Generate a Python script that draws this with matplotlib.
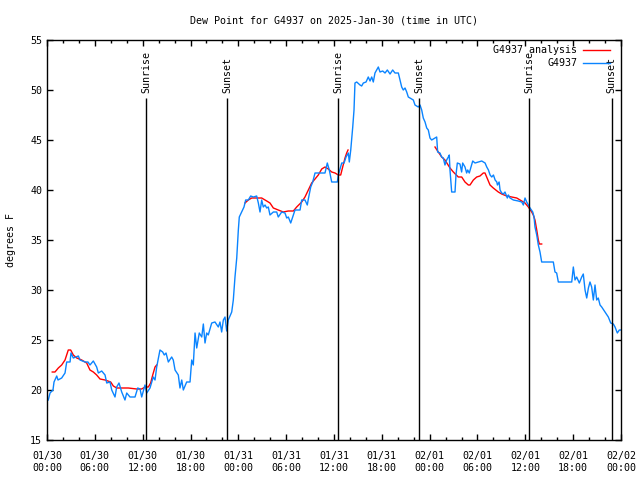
import matplotlib
matplotlib.use("Agg")
import matplotlib.pyplot as plt
from matplotlib.ticker import MultipleLocator

# ---- data (hours since 2025-01-30 00:00 UTC, dew point in F) ----
obs_hours = [0.16, 0.38, 0.75, 0.88, 1.22, 1.38, 1.84, 2.26, 2.47, 2.89, 3.01, 3.30, 3.93, 4.14,
             4.77, 5.14, 5.39, 5.81, 6.23, 6.44, 6.86, 7.28, 7.49, 7.90, 8.12, 8.53, 8.74, 9.03,
             9.37, 9.78, 10.0, 10.41, 11.04, 11.38, 11.67, 11.88, 12.29, 12.51, 12.92, 13.33,
             13.55, 13.76, 14.17, 14.51, 14.71, 14.93, 15.22, 15.64, 15.84, 16.06, 16.47, 16.68,
             16.90, 17.10, 17.52, 17.94, 18.15, 18.35, 18.57, 18.78, 19.10, 19.41, 19.61, 19.82,
             20.03, 20.23, 20.66, 21.07, 21.49, 21.70, 21.91, 22.12, 22.33, 22.54, 22.74, 23.17,
             23.37, 23.58, 23.80, 24.0, 24.12, 24.42, 24.71, 24.92, 25.25, 25.55, 25.89, 26.30,
             26.51, 26.72, 26.93, 27.13, 27.35, 27.56, 27.76, 27.97, 28.39, 28.81, 29.01, 29.44,
             29.85, 30.07, 30.27, 30.57, 30.82, 31.11, 31.74, 31.95, 32.36, 32.65, 32.78, 33.08,
             33.33, 33.62, 34.24, 34.87, 35.16, 35.41, 35.71, 36.42, 36.54, 36.97, 37.26, 37.51,
             37.80, 37.92, 38.10, 38.35, 38.51, 38.63, 38.85, 39.26, 39.47, 39.68, 40.02, 40.30,
             40.52, 40.73, 40.93, 41.14, 41.56, 41.77, 42.11, 42.40, 42.69, 43.03, 43.36, 43.65,
             44.07, 44.28, 44.49, 44.69, 44.91, 45.12, 45.32, 45.53, 45.95, 46.16, 46.57, 46.79,
             47.0, 47.20, 47.42, 47.63, 47.83, 48.04, 48.25, 48.67, 48.88, 49.0, 49.29, 49.50,
             49.71, 49.92, 50.13, 50.34, 50.46, 50.55, 50.68, 50.76, 51.18, 51.30, 51.47, 51.80,
             52.01, 52.14, 52.43, 52.64, 52.77, 52.97, 53.19, 53.40, 53.69, 54.11, 54.53, 54.95,
             55.16, 55.37, 55.58, 55.79, 56.0, 56.21, 56.42, 56.50, 56.71, 56.83, 57.04, 57.25,
             57.45, 57.74, 57.87, 58.08, 58.50, 59.12, 59.55, 59.75, 59.96, 60.17, 60.38, 60.59,
             60.93, 61.09, 61.21, 61.43, 61.63, 61.84, 62.05, 63.51, 63.72, 63.93, 64.14, 65.82,
             66.02, 66.23, 66.44, 66.77, 67.07, 67.27, 67.49, 67.70, 67.91, 68.11, 68.32, 68.53,
             68.74, 68.95, 69.15, 69.37, 69.58, 69.99, 70.41, 70.71, 71.04, 71.25, 71.54, 71.79,
             72.0]
obs_dewpt = [19.0, 19.7, 20.0, 20.8, 21.4, 21.0, 21.2, 21.7, 22.8, 22.8, 23.7, 23.2, 23.4, 23.0,
             22.8, 22.8, 22.5, 22.9, 22.3, 21.7, 21.9, 21.5, 20.7, 20.8, 20.0, 19.3, 20.3, 20.7,
             19.8, 19.0, 19.7, 19.3, 19.3, 20.2, 20.1, 19.3, 20.5, 19.7, 20.2, 21.3,
             21.0, 22.3, 24.0, 23.8, 23.5, 23.7, 22.8, 23.3, 23.0, 22.0, 21.5, 20.2,
             21.0, 20.0, 20.8, 20.8, 23.0, 22.5, 25.7, 24.2, 25.7, 25.3, 26.6, 24.7,
             25.7, 25.5, 26.7, 26.8, 26.3, 26.8, 25.8, 27.0, 27.3, 25.9, 27.0, 27.8,
             29.0, 31.3, 33.2, 36.0, 37.3, 37.8, 38.3, 39.0, 39.0, 39.4, 39.3, 39.4,
             38.7, 37.8, 39.0, 38.3, 38.5, 38.2, 38.3, 37.5, 37.8, 37.8, 37.3, 37.8,
             37.7, 37.2, 37.3, 36.7, 37.3, 38.0, 38.0, 39.0, 39.0, 38.5, 39.1, 40.3,
             40.8, 41.7, 41.7, 41.7, 42.7, 42.0, 40.8, 40.8, 41.5, 42.7, 42.7, 43.3,
             43.7, 42.8, 44.0, 46.3, 48.0, 50.7, 50.8, 50.5, 50.4, 50.7, 50.8, 51.3,
             50.9, 51.3, 50.8, 51.7, 52.3, 51.8, 51.9, 51.7, 52.0, 51.6, 52.0, 51.7,
             51.7, 51.0, 50.3, 50.0, 50.2, 49.8, 49.3, 49.2, 49.0, 48.5, 48.3, 48.5,
             48.0, 47.2, 46.8, 46.2, 46.0, 45.2, 45.0, 45.2, 45.3, 43.8, 43.7, 43.3,
             43.2, 42.5, 43.0, 43.3, 43.5, 42.0, 40.7, 39.8, 39.8, 41.5, 42.7, 42.6,
             41.8, 42.7, 42.3, 41.7, 42.0, 41.7, 42.3, 42.9, 42.7, 42.8, 42.9, 42.7,
             42.3, 42.0, 41.5, 41.3, 41.5, 41.0, 40.8, 40.5, 40.8, 40.0, 39.7, 39.6,
             39.8, 39.2, 39.5, 39.2, 39.0, 38.9, 38.8, 38.5, 39.2, 38.8, 38.5, 38.2,
             37.8, 37.3, 36.3, 35.5, 34.5, 33.8, 32.8, 32.8, 31.8, 31.7, 30.8, 30.8,
             32.3, 31.0, 31.3, 30.7, 31.3, 31.6, 30.0, 29.2, 30.2, 30.8, 30.3, 29.0,
             30.5, 29.0, 29.2, 28.5, 28.3, 27.8, 27.3, 26.7, 26.6, 26.3, 25.7, 26.0,
             26.0]

ana1_hours = [0.66, 1.0, 1.42, 1.84, 2.26, 2.67, 2.97, 3.30, 3.73, 4.35, 4.98, 5.39, 5.81, 6.23,
              6.65, 7.28, 7.99, 8.32, 8.74, 9.37, 10.20, 11.25, 11.88, 12.29, 12.71, 13.0,
              13.26, 13.55, 13.76]
ana1_dewpt = [21.8, 21.8, 22.2, 22.5, 23.0, 24.0, 24.0, 23.5, 23.2, 23.0, 22.7, 22.0, 21.8, 21.5,
              21.1, 21.0, 20.8, 20.4, 20.2, 20.2, 20.2, 20.1, 20.1, 20.3, 20.3, 20.7,
              21.5, 22.3, 22.5]
ana2_hours = [24.84, 25.25, 25.68, 26.30, 26.93, 27.56, 27.97, 28.39, 29.01, 29.64, 30.27, 30.90,
              31.32, 31.95, 32.36, 32.78, 33.20, 33.62, 34.03, 34.46, 34.87, 35.29, 35.71, 36.13,
              36.54, 36.84, 37.09, 37.38, 37.59, 37.76]
ana2_dewpt = [38.7, 39.0, 39.2, 39.2, 39.2, 38.9, 38.7, 38.2, 38.0, 37.8, 37.9, 37.9,
              38.3, 38.8, 39.3, 40.0, 40.7, 41.1, 41.5, 42.1, 42.3, 42.1, 41.8, 41.7,
              41.5, 41.5, 42.3, 43.2, 43.7, 44.0]
ana3_hours = [48.67, 49.08, 49.51, 49.92, 50.55, 50.97, 51.59, 52.02, 52.43, 52.85, 53.06, 53.48,
              53.90, 54.31, 54.73, 54.94, 55.15, 55.57, 55.98, 56.61, 57.04, 57.66, 58.29, 58.92,
              59.55, 59.96, 60.38, 60.80, 61.0, 61.21, 61.43, 61.63, 61.76, 62.05]
ana3_dewpt = [44.3, 43.8, 43.3, 43.0, 42.2, 41.8, 41.3, 41.3, 40.8, 40.5, 40.5, 41.0,
              41.3, 41.4, 41.7, 41.7, 41.3, 40.5, 40.2, 39.8, 39.6, 39.4, 39.3, 39.2,
              38.9, 38.7, 38.3, 37.8, 37.5, 37.0, 36.0, 35.0, 34.6, 34.6]

sun_hours = [12.45, 22.62, 36.54, 46.70, 60.50, 70.83]
sun_labels = ["Sunrise", "Sunset", "Sunrise", "Sunset", "Sunrise", "Sunset"]

xtick_hours = [0, 6, 12, 18, 24, 30, 36, 42, 48, 54, 60, 66, 72]
xtick_labels = ["01/30\n00:00", "01/30\n06:00", "01/30\n12:00", "01/30\n18:00",
                "01/31\n00:00", "01/31\n06:00", "01/31\n12:00", "01/31\n18:00",
                "02/01\n00:00", "02/01\n06:00", "02/01\n12:00", "02/01\n18:00",
                "02/02\n00:00"]

# ---- styling ----
FONT = "DejaVu Sans Mono"
FS = 7.2
RED = "#ff0000"
BLUE = "#0a84ff"

plt.rcParams["font.family"] = FONT
plt.rcParams["font.size"] = FS

fig = plt.figure(figsize=(6.4, 4.8), dpi=100)
ax = fig.add_axes([47 / 640, 40 / 480, 574 / 640, 400 / 480])

l1, = ax.plot(ana1_hours, ana1_dewpt, color=RED, lw=1.0, label="G4937 analysis")
ax.plot(ana2_hours, ana2_dewpt, color=RED, lw=1.0)
ax.plot(ana3_hours, ana3_dewpt, color=RED, lw=1.0)
l2, = ax.plot(obs_hours, obs_dewpt, color=BLUE, lw=1.0, label="G4937")

for t, lab in zip(sun_hours, sun_labels):
    ax.vlines(t, 15, 49.2, color="black", lw=1.0)
    ax.text(t, 49.7, lab, rotation=90, ha="center", va="bottom", fontsize=FS)

ax.set_xlim(0, 72)
ax.set_ylim(15, 55)
ax.set_xticks(xtick_hours)
ax.set_xticklabels(xtick_labels)
ax.xaxis.set_minor_locator(MultipleLocator(2))
ax.yaxis.set_major_locator(MultipleLocator(5))
ax.tick_params(which="both", direction="in", top=True, right=True, width=1.0, labelsize=FS)
ax.tick_params(which="major", length=4.5)
ax.tick_params(which="minor", length=2.5)
ax.tick_params(axis="x", pad=8)
for s in ax.spines.values():
    s.set_linewidth(1.0)

ax.set_ylabel("degrees F", fontsize=FS, labelpad=10)
ax.set_title("Dew Point for G4937 on 2025-Jan-30 (time in UTC)", fontsize=FS, pad=12)

ax.legend(handles=[l1, l2], loc="upper right", bbox_to_anchor=(1.0 - 4 / 574, 1.0 + 2 / 400),
          frameon=False, markerfirst=False, handlelength=2.7, handletextpad=0.6,
          labelspacing=0.35, borderaxespad=0.3, fontsize=FS)

fig.savefig("out.png", dpi=100)
